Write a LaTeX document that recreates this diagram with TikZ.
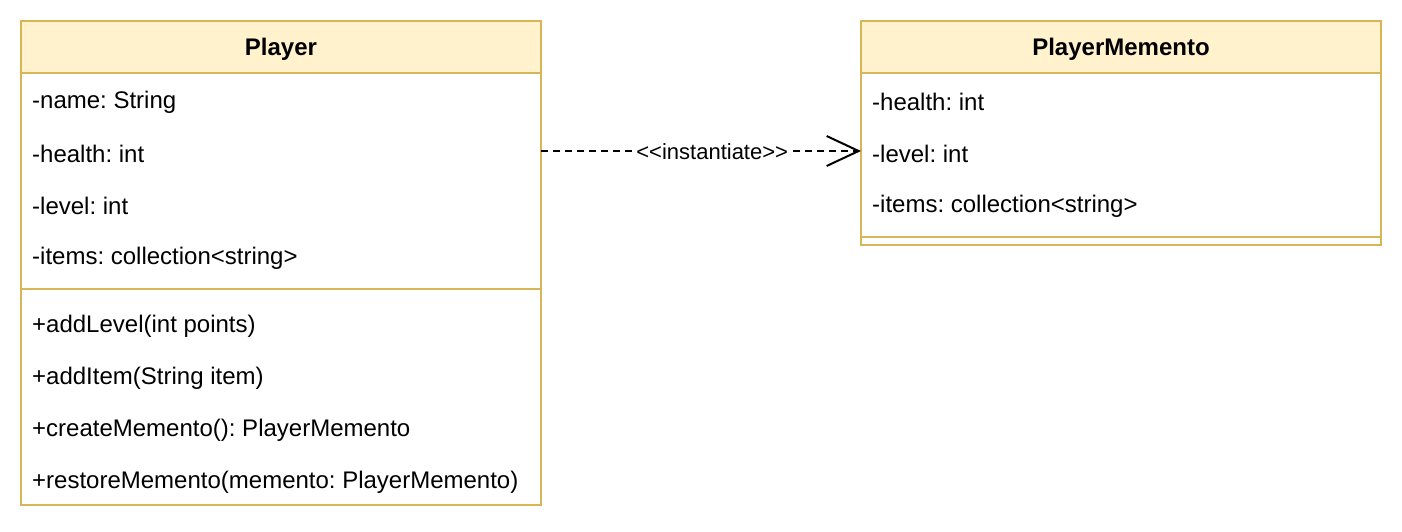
\documentclass[tikz,border=0pt]{standalone}
\usepackage{fontspec}
\setmainfont[Ligatures=NoCommon]{Liberation Sans}
\usetikzlibrary{arrows.meta}
\frenchspacing
\definecolor{umlfill}{HTML}{FFF2CC}
\definecolor{umlstroke}{HTML}{D6B656}
\tikzset{
  boxline/.style={draw=umlstroke, line width=2pt},
  header/.style={font=\fontsize{24}{28}\selectfont\bfseries, anchor=center, inner sep=0pt},
  member/.style={font=\fontsize{24}{28}\selectfont, anchor=west, inner sep=0pt},
  conn/.style={line width=2pt, dash pattern=on 7pt off 5pt, -{Straight Barb[length=32pt, width=30pt, line width=2pt]}},
  lbl/.style={font=\fontsize{22}{26}\selectfont, fill=white, inner sep=1pt}
}
\begin{document}
\begin{tikzpicture}[x=1pt, y=-1pt]
\useasboundingbox (0,0) rectangle (1402,532);
% Player class
\fill[umlfill] (21,21) rectangle (541,73);
\draw[boxline] (21,21) rectangle (541,505);
\draw[boxline] (21,73) -- (541,73);
\draw[boxline] (21,289) -- (541,289);
\node[header] (ph) at (281,49.5) {Player};
\node[member] (p1) at (32,102) {-name: String};
\node[member] (p2) at (32,154) {-health: int};
\node[member] (p3) at (32,206) {-level: int};
\node[member] (p4) at (32,258) {-items: collection{<}string{>}};
\node[member] (p5) at (32,326) {+addLevel(int points)};
\node[member] (p6) at (32,378) {+addItem(String item)};
\node[member] (p7) at (32,430) {+createMemento(): PlayerMemento};
\node[member] (p8) at (32,482) {+restoreMemento(memento: PlayerMemento)};
% PlayerMemento class
\fill[umlfill] (861,21) rectangle (1381,73);
\draw[boxline] (861,21) rectangle (1381,245);
\draw[boxline] (861,73) -- (1381,73);
\draw[boxline] (861,237) -- (1381,237);
\node[header] (mh) at (1121,49.5) {PlayerMemento};
\node[member] (m1) at (872,102) {-health: int};
\node[member] (m2) at (872,154) {-level: int};
\node[member] (m3) at (872,206) {-items: collection{<}string{>}};
% connector
\coordinate (src) at (541,151);
\coordinate (dst) at (861,151);
\draw[conn] (src) -- node[lbl, pos=0.535, yshift=-1pt] (lab) {{<}{<}instantiate{>}{>}} (dst);
\end{tikzpicture}
\end{document}
